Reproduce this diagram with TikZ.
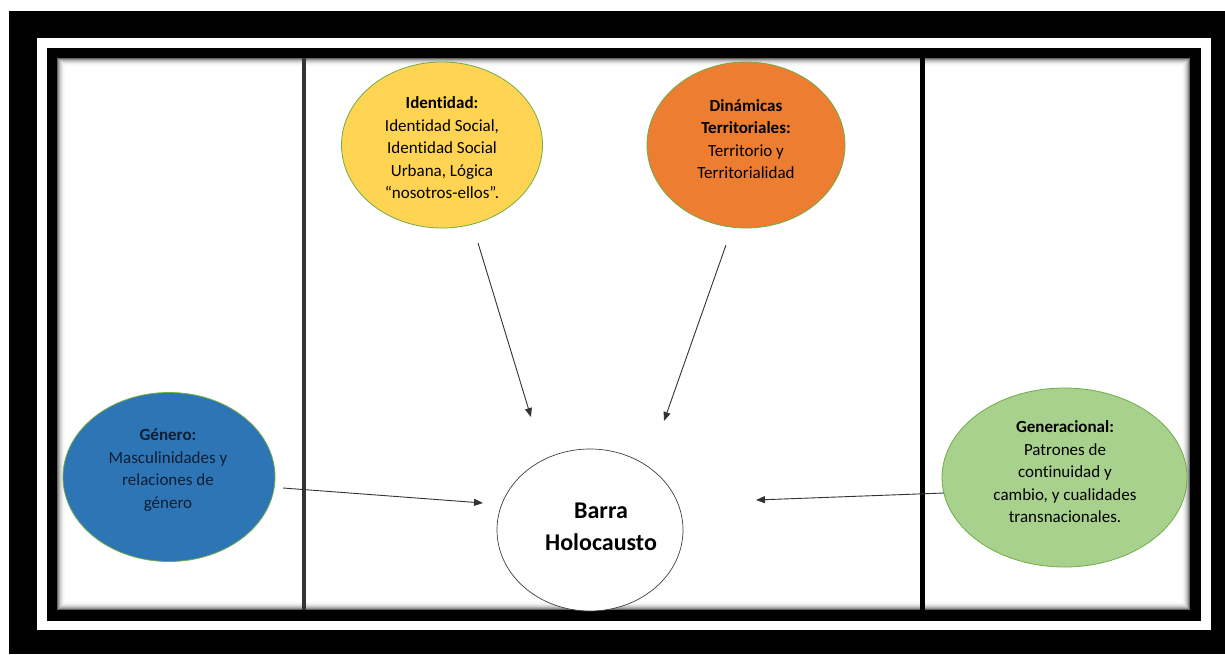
\documentclass[tikz,border=0pt]{standalone}
\usepackage{fontspec}
\setmainfont{Carlito}[Ligatures=NoCommon]
\usetikzlibrary{shapes.geometric,arrows.meta}
\definecolor{cyellow}{HTML}{FFD452}
\definecolor{corange}{HTML}{ED7D31}
\definecolor{cblue}{HTML}{2E75B6}
\definecolor{cgreen}{HTML}{A9D18E}
\definecolor{cedge}{HTML}{70AD47}
\definecolor{cnavy}{HTML}{0E1E33}
\tikzset{
  ell/.style={ellipse, draw=cedge, line width=0.8pt, inner sep=0pt},
  txt/.style={align=center, font=\fontsize{17}{22.5}\selectfont, text=black, inner sep=0pt},
  bigtxt/.style={align=center, font=\fontsize{24}{32}\selectfont\bfseries, text=black, inner sep=0pt},
  conn/.style={draw=black!80, line width=0.9pt, -{Triangle[length=9pt,width=7pt]}},
}
\begin{document}
\begin{tikzpicture}[x=1pt,y=-1pt]
\useasboundingbox (0,0) rectangle (1225,654);
\fill[white] (0,0) rectangle (1225,654);
% frame
\fill[black] (9,11) rectangle (1225,654);
\fill[white] (37,38) rectangle (1211,630);
\fill[black] (47,48) rectangle (1201,621);
\fill[white] (57,58) rectangle (1190,610);
\foreach \i/\c in {0/60,1/42,2/30,3/20,4/13,5/8,6/4,7/2}
  \draw[black!\c, line width=1pt] (57.5+\i,58.5+\i) rectangle (1189.5-\i,609.5-\i);
% vertical dividers
\draw[black!80, line width=4pt] (304,58) -- (304,610);
\draw[black, line width=5pt] (922,58) -- (922,610);
% ellipses
\node[ell, fill=cyellow, minimum width=201pt, minimum height=166pt] (ident) at (442,145) {};
\node[ell, fill=corange, minimum width=198pt, minimum height=166pt] (dinam) at (746,145) {};
\node[ell, fill=cblue, minimum width=212pt, minimum height=169pt] (genero) at (169,477) {};
\node[ell, fill=cgreen, minimum width=245pt, minimum height=179pt] (gener) at (1064.5,477.5) {};
\node[ellipse, draw=black!75, line width=0.7pt, fill=white, inner sep=0pt, minimum width=186pt, minimum height=162pt] (barra) at (590,530) {};
% texts
\node[txt] (identtxt) at (442,148) {\textbf{Identidad:}\\Identidad Social,\\Identidad Social\\Urbana, Lógica\\“nosotros-ellos”.};
\node[txt] (dinamtxt) at (746,139) {\textbf{Dinámicas}\\\textbf{Territoriales:}\\Territorio y\\Territorialidad};
\node[txt, text=cnavy] (generotxt) at (168,470) {\textbf{Género:}\\Masculinidades y\\relaciones de\\género};
\node[txt] (genertxt) at (1065,472) {\textbf{Generacional:}\\Patrones de\\continuidad y\\cambio, y cualidades\\transnacionales.};
\node[bigtxt] (barratxt) at (601,527) {Barra\\Holocausto};
% connectors
\coordinate (a1s) at (478,243); \coordinate (a1e) at (531,417);
\coordinate (a2s) at (726,245); \coordinate (a2e) at (664,421);
\coordinate (a3s) at (283,488); \coordinate (a3e) at (483,503);
\coordinate (a4s) at (944,493); \coordinate (a4e) at (756,500);
\draw[conn] (a1s) -- (a1e);
\draw[conn] (a2s) -- (a2e);
\draw[conn] (a3s) -- (a3e);
\draw[conn] (a4s) -- (a4e);
\end{tikzpicture}
\end{document}
